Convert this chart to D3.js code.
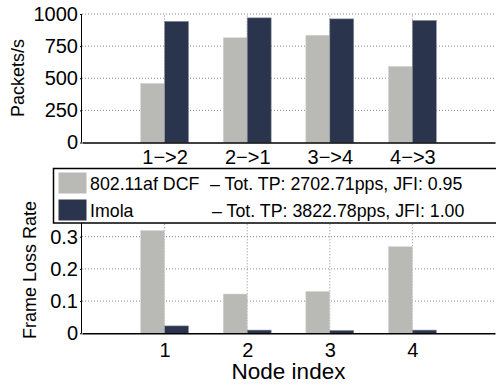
<!DOCTYPE html>
<html>
<head>
<meta charset="utf-8">
<script src="https://cdn.jsdelivr.net/npm/d3@7"></script>
<style>
  body { margin: 0; background: #fff; }
  svg { display: block; font-family: "Liberation Sans", Arial, Helvetica, sans-serif; }
</style>
</head>
<body>
<script>
// values
const linkLabels = ['1\u2212>2', '2\u2212>1', '3\u2212>4', '4\u2212>3'];
const nodeLabels = ['1', '2', '3', '4'];
const dcfPps = [460, 815, 835, 593];
const imolaPps = [943, 970, 962, 950];
const dcfLoss = [0.319, 0.122, 0.130, 0.269];
const imolaLoss = [0.023, 0.010, 0.009, 0.010];
const ppsTicks = [0, 250, 500, 750, 1000];
const lossTicks = [0, 0.1, 0.2, 0.3];
const lossTickLabels = ['0', '0.1', '0.2', '0.3'];
const series = [
  { name: '802.11af DCF', note: '\u2013 Tot. TP: 2702.71pps, JFI: 0.95', color: '#b9bab5' },
  { name: 'Imola', note: '\u2013 Tot. TP: 3822.78pps, JFI: 1.00', color: '#2a354d' }
];

const width = 496;
const height = 385;
const barW = 0.29;

const svg = d3.select('body').append('svg')
  .attr('width', width)
  .attr('height', height);

const x = d3.scaleLinear().domain([0, 5]).range([82, 495]);
const yTop = d3.scaleLinear().domain([0, 1000]).range([142.5, 14]);
const yBot = d3.scaleLinear().domain([0, 0.35]).range([333.3, 220.6]);

function panel(y, yTicks, yLabels, xLabels, dcf, imola, xPad) {
  const g = svg.append('g');
  const [y0, y1] = y.range();

  // dotted grid
  g.selectAll('.hgrid')
    .data(yTicks.filter(d => d > 0))
    .enter().append('line')
    .attr('x1', x(0)).attr('x2', x(5))
    .attr('y1', d => y(d)).attr('y2', d => y(d))
    .attr('stroke', '#8a8a8a').attr('stroke-width', 1)
    .attr('stroke-dasharray', '1,2');
  g.selectAll('.vgrid')
    .data([1, 2, 3, 4])
    .enter().append('line')
    .attr('x1', d => x(d)).attr('x2', d => x(d))
    .attr('y1', y0).attr('y2', y1)
    .attr('stroke', '#8a8a8a').attr('stroke-width', 1)
    .attr('stroke-dasharray', '1,2');

  // bars
  const idx = [0, 1, 2, 3];
  g.selectAll('.dcf')
    .data(idx)
    .enter().append('rect')
    .attr('x', i => x(i + 1 - barW))
    .attr('width', x(barW) - x(0))
    .attr('y', i => y(dcf[i]))
    .attr('height', i => y0 - y(dcf[i]))
    .attr('fill', series[0].color)
    .attr('stroke', '#d6d6d2').attr('stroke-width', 0.6);
  g.selectAll('.imola')
    .data(idx)
    .enter().append('rect')
    .attr('x', i => x(i + 1))
    .attr('width', x(barW) - x(0))
    .attr('y', i => y(imola[i]))
    .attr('height', i => y0 - y(imola[i]))
    .attr('fill', series[1].color)
    .attr('stroke', '#8c93a0').attr('stroke-width', 0.6);

  // axes
  const yAxis = g.append('g')
    .attr('transform', `translate(${x(0)},0)`)
    .call(d3.axisLeft(y).tickValues(yTicks).tickSize(2).tickPadding(2)
      .tickFormat((d, i) => yLabels[i]));
  yAxis.select('.domain').attr('d', `M-0.5,${y1}V${y0}`);
  yAxis.selectAll('text').attr('font-size', 20).attr('fill', '#000');

  const xAxis = g.append('g')
    .attr('transform', `translate(0,${y0})`)
    .call(d3.axisBottom(x).tickValues([1, 2, 3, 4]).tickSize(0).tickPadding(xPad)
      .tickFormat((d, i) => xLabels[i]));
  xAxis.select('.domain').attr('stroke-width', 1.5);
  xAxis.selectAll('text').attr('font-size', 20).attr('fill', '#000');
  g.selectAll('.domain').attr('stroke', '#000');
  g.selectAll('.tick line').attr('stroke', '#000');
  g.selectAll('text').attr('font-family', '"Liberation Sans", Arial, Helvetica, sans-serif');
}

panel(yTop, ppsTicks, ppsTicks.map(String), linkLabels, dcfPps, imolaPps, 7.5);
panel(yBot, lossTicks, lossTickLabels, nodeLabels, dcfLoss, imolaLoss, 9.5);

// axis titles
svg.append('text')
  .attr('transform', 'translate(24,78) rotate(-90)')
  .attr('text-anchor', 'middle')
  .attr('font-size', 18)
  .text('Packets/s');
svg.append('text')
  .attr('transform', 'translate(36,270) rotate(-90)')
  .attr('text-anchor', 'middle')
  .attr('font-size', 18)
  .text('Frame Loss Rate');
svg.append('text')
  .attr('x', (x(0) + x(5)) / 2)
  .attr('y', 379)
  .attr('text-anchor', 'middle')
  .attr('font-size', 22.5)
  .text('Node index');

// legend
const legend = svg.append('g');
legend.append('rect')
  .attr('x', 53.5).attr('y', 168.5)
  .attr('width', 460).attr('height', 54.5)
  .attr('fill', '#fff').attr('stroke', '#000').attr('stroke-width', 1.5);
const rows = legend.selectAll('.row')
  .data(series)
  .enter().append('g')
  .attr('transform', (d, i) => `translate(0,${i * 27})`);
rows.append('rect')
  .attr('x', 58.5).attr('y', 172.5)
  .attr('width', 28).attr('height', 21)
  .attr('fill', d => d.color);
rows.append('text')
  .attr('x', 90).attr('y', 189.5)
  .attr('font-size', 17.8)
  .text(d => d.name);
rows.append('text')
  .attr('x', (d, i) => i === 0 ? 210 : 212).attr('y', 189.5)
  .attr('font-size', 17.8)
  .text(d => d.note);
</script>
</body>
</html>
